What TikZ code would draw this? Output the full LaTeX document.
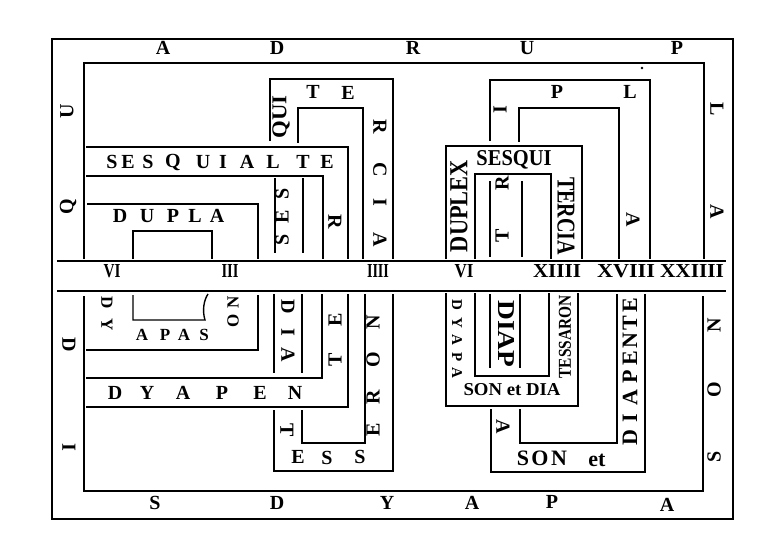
\documentclass[tikz,border=0pt]{standalone}
\usepackage{fontspec}
\setmainfont{Liberation Serif}
\newcommand\rbx[3]{\resizebox{#1pt}{#2pt}{#3}}
\begin{document}
\begin{tikzpicture}[x=1pt,y=-1pt,
  ln/.style={line width=1.4pt},
  lt/.style={font=\fontsize{20}{20}\selectfont\bfseries, inner sep=0pt},
  lm/.style={font=\fontsize{20}{20}\selectfont\bfseries, inner sep=0pt},
  lb/.style={font=\fontsize{22}{22}\selectfont\bfseries, inner sep=0pt},
  ls/.style={font=\fontsize{17}{17}\selectfont\bfseries, inner sep=0pt},
  lx/.style={font=\fontsize{15}{15}\selectfont\bfseries, inner sep=0pt},
  wd/.style={font=\bfseries, inner sep=0pt}]
\useasboundingbox[fill=white] (0,0) rectangle (777,550);
% outer frame and band
\draw[ln] (52,39) rectangle (733,519);
\draw[ln] (57,261) -- (726,261);
\draw[ln] (57,291) -- (726,291);
% quadrupla / disdyapason inner lines
\draw[ln] (84,259) -- (84,63) -- (704,63) -- (704,259);
\draw[ln] (84,296) -- (84,491) -- (703,491) -- (703,296);
% sesquialtera
\draw[ln] (86,147) -- (348,147) -- (348,259);
\draw[ln] (86,176) -- (323,176) -- (323,259);
% dupla
\draw[ln] (87,204) -- (258,204) -- (258,259);
\draw[ln] (133,259) -- (133,231) -- (212,231) -- (212,259);
% sesquitercia
\draw[ln] (270,141) -- (270,79) -- (393,79) -- (393,259);
\draw[ln] (298,143) -- (298,108) -- (363,108) -- (363,259);
\draw[ln] (275,178) -- (275,253);
\draw[ln] (303,178) -- (303,253);
% tripla
\draw[ln] (490,141) -- (490,80) -- (650,80) -- (650,259);
\draw[ln] (519,142) -- (519,108) -- (619,108) -- (619,259);
\draw[ln] (490,181) -- (490,257);
\draw[ln] (522,181) -- (522,257);
\fill (642,68) circle (1.3);
% duplex sesquitercia
\draw[ln] (446,259) -- (446,146) -- (582,146) -- (582,259);
\draw[ln] (475,259) -- (475,174) -- (551,174) -- (551,259);
% dyapason (left)
\draw[ln] (86,350) -- (258,350) -- (258,295);
\draw[ln] (133,295) -- (133,320) -- (205,320) .. controls (202,310) and (204,300) .. (208,294);
% diapente (left)
\draw[ln] (86,378) -- (322,378) -- (322,294);
\draw[ln] (86,407) -- (348,407) -- (348,294);
% diatesseron
\draw[ln] (274,294) -- (274,373);
\draw[ln] (302,294) -- (302,373);
\draw[ln] (274,410) -- (274,471) -- (393,471) -- (393,294);
\draw[ln] (302,410) -- (302,443) -- (365,443) -- (365,294);
% dyapason et diatessaron
\draw[ln] (446,293) -- (446,406) -- (578,406) -- (578,293);
\draw[ln] (475,293) -- (475,376) -- (549,376) -- (549,293);
% diapason et diapente
\draw[ln] (490,294) -- (490,368);
\draw[ln] (520,294) -- (520,368);
\draw[ln] (491,409) -- (491,472) -- (645,472) -- (645,294);
\draw[ln] (520,409) -- (520,443) -- (617,443) -- (617,294);
% outer letters
\foreach \t/\x/\y/\r [count=\i] in {A/163/48/0, D/277/48/0, R/413/48/0, U/527/48/0, P/677/48/0,
  U/67/111/90, Q/68/207/90, L/717/109/-90, A/717/212/-90,
  S/155/503/0, D/277/503/0, Y/387/503/0, A/472/503/0, P/552/502/0, A/667/505/0,
  D/69/345/-90, I/69/447/-90, N/714/325/90, O/714/390/90, S/714/457/90}
  \node[lt, rotate=\r] (o\i) at (\x,\y) {\t};
% medium letters
\foreach \t/\x/\y/\r [count=\i] in {S/112/162/0, E/128/162/0, S/148/162/0, Q/173/162/0, U/203/162/0,
  I/223/162/0, A/247/162/0, L/273/162/0, T/303/162/0, E/327/162/0, R/335/222/-90,
  D/120/216/0, U/147/216/0, P/173/216/0, L/195/216/0, A/217/216/0,
  D/115/393/0, Y/147/393/0, A/183/393/0, P/222/393/0, E/260/393/0, N/295/393/0,
  T/335/360/90, E/335/320/90}
  \node[lm, rotate=\r] (m\i) at (\x,\y) {\t};
% inner frame letters
\foreach \t/\x/\y/\r [count=\i] in {S/282/240/90, E/282/217/90, S/282/194/90, T/313/92/0, E/348/93/0,
  R/380/127/-90, C/380/170/-90, I/380/202/-90, A/380/240/-90,
  I/500/110/90, P/557/92/0, L/630/92/0, A/633/220/-90, T/502/236/90, R/502/183/90,
  D/288/307/-90, I/288/332/-90, A/288/355/-90, T/287/430/-90, E/298/457/0, S/327/458/0, S/360/457/0,
  N/373/322/90, O/373/360/90, R/373/397/90, E/373/430/90,
  A/503/427/-90}
  \node[lt, rotate=\r] (s\i) at (\x,\y) {\t};
\foreach \t/\x/\y/\r [count=\i] in {S/523/458/0, O/540/458/0, N/559/458/0, et/597/460/0,
  E/630/305/90, T/630/323/90, N/630/341/90, E/630/358/90, P/630/377/90, A/630/398/90, I/630/418/90, D/630/438/90}
  \node[lb, rotate=\r] (b\i) at (\x,\y) {\t};
\foreach \t/\x/\y/\r [count=\i] in {D/107/303/-90, Y/107/325/-90, A/142/335/0, P/165/335/0, A/184/335/0, S/204/335/0,
  N/233/302/90, O/233/321/90}
  \node[ls, rotate=\r] (d\i) at (\x,\y) {\t};
\foreach \t/\x/\y/\r [count=\i] in {D/457/305/-90, Y/457/323/-90, A/457/340/-90, P/457/357/-90, A/457/373/-90}
  \node[lx, rotate=\r] (y\i) at (\x,\y) {\t};
% compact words
\node[wd, rotate=90] (qui) at (281,117) {\rbx{43}{14}{QUI}};
\node[wd, rotate=90] (duplex) at (459,206) {\rbx{92}{17}{DUPLEX}};
\node[wd] (sesqui) at (514,160) {\rbx{75}{15}{SESQUI}};
\node[wd, rotate=-90] (tercia) at (566,216) {\rbx{78}{17}{TERCIA}};
\node[wd, rotate=-90] (diap) at (506,334) {\rbx{67}{16}{DIAP}};
\node[wd, rotate=90] (tessaron) at (565,337) {\rbx{83}{12}{TESSARON}};
\node[wd] (sonetdia) at (512,390) {\rbx{97}{12}{SON et DIA}};
% numerals
\node[wd] (n1) at (112,271) {\rbx{17}{13}{VI}};
\node[wd] (n2) at (230,271) {\rbx{17}{13}{III}};
\node[wd] (n3) at (378,271) {\rbx{22}{13}{IIII}};
\node[wd] (n4) at (464,271) {\rbx{19}{13}{VI}};
\node[wd] (n5) at (557,271) {\rbx{48}{13}{XIIII}};
\node[wd] (n6) at (626,271) {\rbx{58}{13}{XVIII}};
\node[wd] (n7) at (692,271) {\rbx{64}{13}{XXIIII}};
\end{tikzpicture}
\end{document}
